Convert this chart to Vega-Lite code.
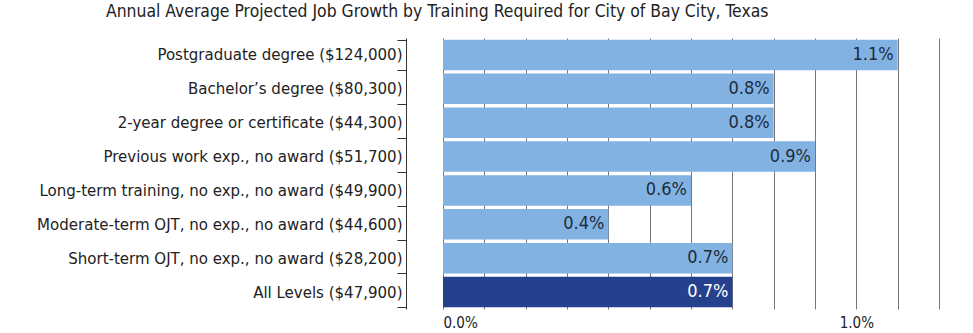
{
  "$schema": "https://vega.github.io/schema/vega-lite/v6.json",
  "autosize": "none",
  "width": 496,
  "height": 271,
  "padding": {"left": 443, "top": 38, "right": 34, "bottom": 24},
  "background": "white",
  "title": {
    "text": "Annual Average Projected Job Growth by Training Required for City of Bay City, Texas",
    "anchor": "start",
    "frame": "group",
    "dx": -337,
    "offset": 10,
    "font": "DejaVu Sans Condensed",
    "fontSize": 17.4,
    "fontWeight": "normal",
    "color": "#222222"
  },
  "config": {
    "view": {"stroke": null},
    "font": "DejaVu Sans Condensed"
  },
  "data": {
    "values": [
      {"level": "Postgraduate degree ($124,000)", "growth": 0.011, "all": false},
      {"level": "Bachelor’s degree ($80,300)", "growth": 0.008, "all": false},
      {"level": "2-year degree or certificate ($44,300)", "growth": 0.008, "all": false},
      {"level": "Previous work exp., no award ($51,700)", "growth": 0.009, "all": false},
      {"level": "Long-term training, no exp., no award ($49,900)", "growth": 0.006, "all": false},
      {"level": "Moderate-term OJT, no exp., no award ($44,600)", "growth": 0.004, "all": false},
      {"level": "Short-term OJT, no exp., no award ($28,200)", "growth": 0.007, "all": false},
      {"level": "All Levels ($47,900)", "growth": 0.007, "all": true}
    ]
  },
  "encoding": {
    "y": {
      "field": "level",
      "type": "nominal",
      "sort": null,
      "scale": {"paddingInner": 0.1, "paddingOuter": 0.05},
      "axis": {
        "title": null,
        "offset": 37,
        "domainColor": "#333333",
        "tickColor": "#333333",
        "tickBand": "extent",
        "tickSize": 9,
        "labelPadding": -5,
        "labelLimit": 400,
        "labelFontSize": 16.7,
        "labelColor": "#222222",
        "labelFont": "DejaVu Sans Condensed"
      }
    },
    "x": {
      "field": "growth",
      "type": "quantitative",
      "scale": {"domain": [0, 0.012], "nice": false},
      "axis": {
        "title": null,
        "values": [0, 0.001, 0.002, 0.003, 0.004, 0.005, 0.006, 0.007, 0.008, 0.009, 0.01, 0.011, 0.012],
        "labelExpr": "datum.value == 0 || datum.value == 0.01 ? format(datum.value, '.1%') : ''",
        "domain": false,
        "ticks": false,
        "grid": true,
        "gridColor": "#777777",
        "gridWidth": 1,
        "gridOpacity": 1,
        "labelPadding": 6,
        "labelDx": 5,
        "labelFontSize": 15,
        "labelColor": "#222222",
        "labelFont": "DejaVu Sans Condensed"
      }
    }
  },
  "layer": [
    {
      "mark": {"type": "bar"},
      "encoding": {
        "color": {
          "field": "all",
          "type": "nominal",
          "scale": {"domain": [false, true], "range": ["#82b2e2", "#25418d"]},
          "legend": null
        }
      }
    },
    {
      "mark": {"type": "text", "align": "right", "dx": -4, "fontSize": 18, "font": "DejaVu Sans Condensed"},
      "encoding": {
        "text": {"field": "growth", "type": "quantitative", "format": ".1%"},
        "color": {
          "condition": {"test": "datum.all", "value": "#ffffff"},
          "value": "#1e2b3c"
        }
      }
    }
  ]
}
